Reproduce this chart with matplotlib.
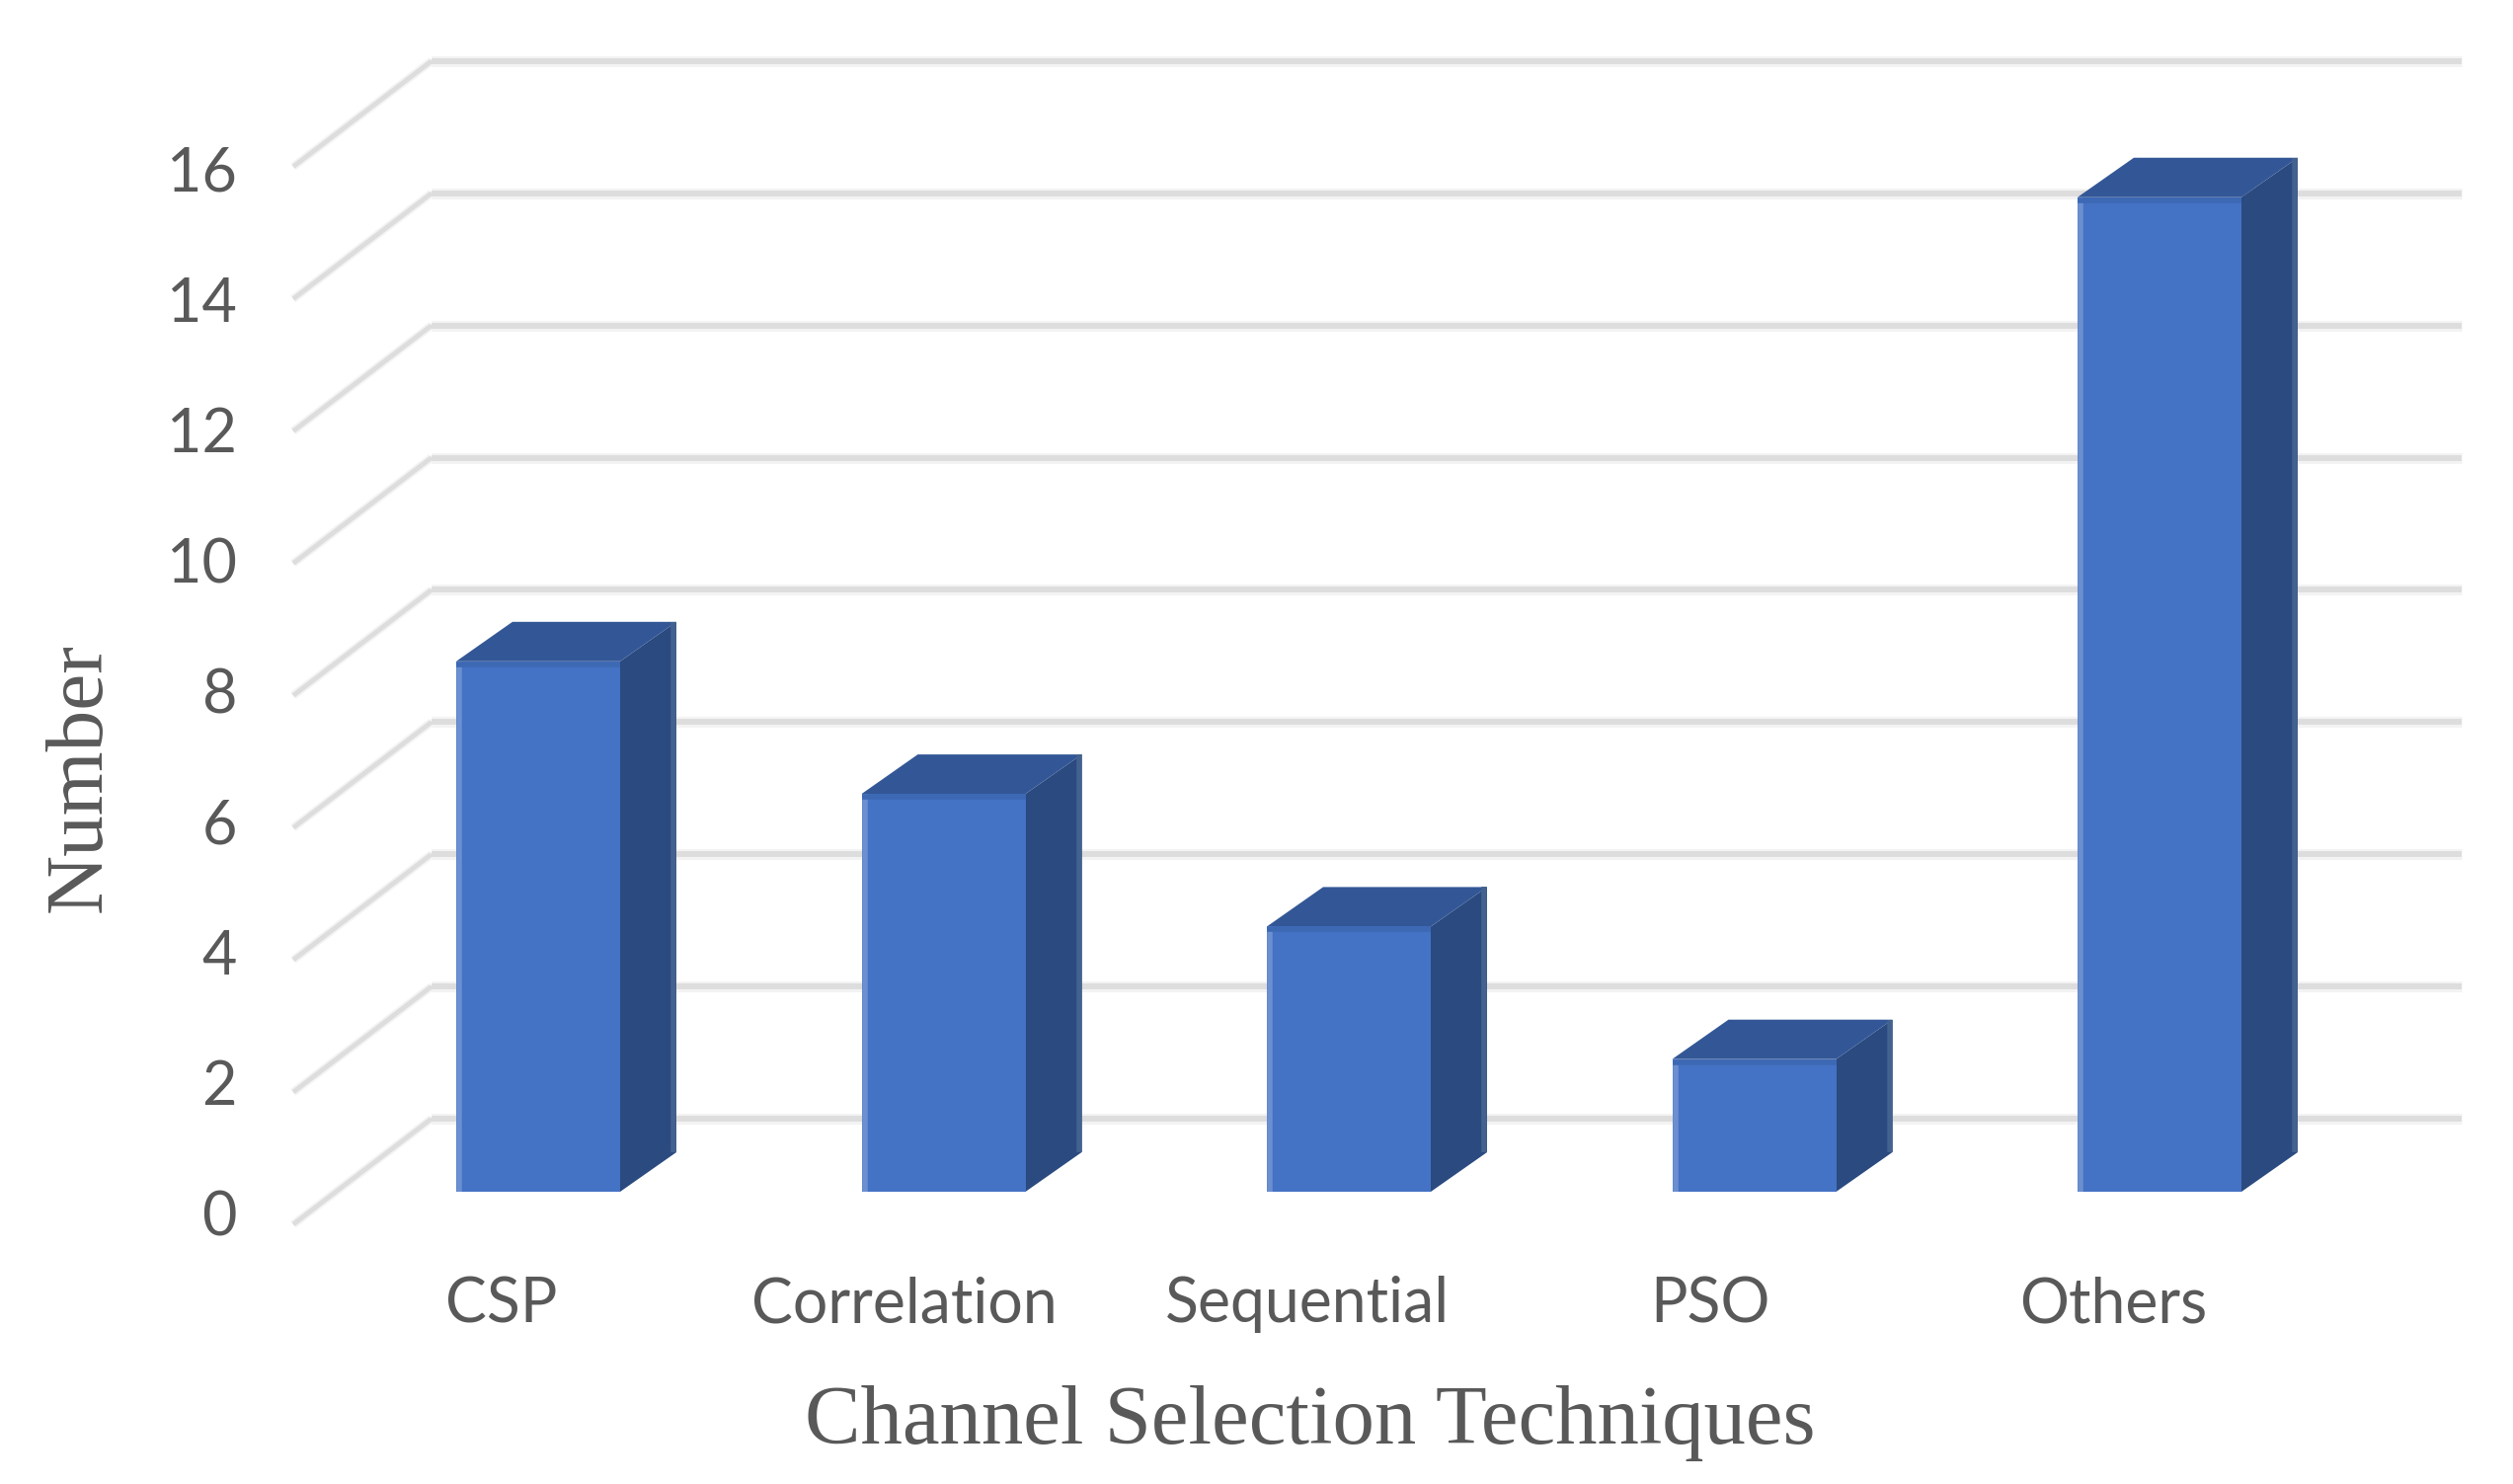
# -*- coding: utf-8 -*-
import matplotlib
matplotlib.use('Agg')
import matplotlib.pyplot as plt
from matplotlib.patches import Polygon

categories = ['CSP', 'Correlation', 'Sequential', 'PSO', 'Others']
values = [8, 6, 4, 2, 15]
y_ticks = [0, 2, 4, 6, 8, 10, 12, 14, 16]

x_title = 'Channel Selection Techniques'
y_title = 'Number'

# pixel layout of the fake 3d box
W, H = 2545, 1503
X0, STEP = 545.0, 410.5   # centre of first bar, spacing between bars
Y0, UNIT = 1207.0, 67.15  # bar plane baseline, pixels per unit


def px(x):
    return (x - X0) / STEP


def py(y):
    return (Y0 - y) / UNIT


def dx(d):
    return d / STEP


def dy(d):
    return d / UNIT


fig = plt.figure(figsize = (W / 100, H / 100), dpi = 100, facecolor = 'white')
ax = fig.add_axes([0, 0, 1, 1])
ax.set_xlim(px(0), px(W))
ax.set_ylim(py(H), py(0))
ax.axis('off')

# back wall and side wall gridlines, the wall is a bit further away so the scale is smaller
wall_left, wall_right = px(437), px(2493)
wall_shift = dy(74)
wall_scale = 66.95 / UNIT
label_scale = 66.1 / UNIT
side_x, side_y = px(297), dy(33)
for v in y_ticks:
    wall_y = v * wall_scale + wall_shift
    side_end = v * wall_scale - side_y
    for color, lw_back, lw_side, z in [('#F3F3F3', 8.0, 6.0, 1), ('#DDDDDD', 4.2, 3.4, 1.5)]:
        ax.plot([wall_left, wall_right], [wall_y, wall_y], color = color,
            lw = lw_back, solid_capstyle = 'butt', zorder = z)
        ax.plot([side_x, wall_left], [side_end, wall_y], color = color,
            lw = lw_side, solid_capstyle = 'butt', zorder = z)
    ax.text(px(240), v * label_scale - dy(27), str(v), ha = 'right', va = 'center', fontsize = 44,
        family = 'Lato', color = '#595959', zorder = 5)

# bars
bar_w = 166.0 / STEP
depth_x, depth_y = dx(57), dy(40)
for i, (name, v) in enumerate(zip(categories, values)):
    left, right = i - bar_w / 2, i + bar_w / 2
    ax.add_patch(Polygon([(right, 0), (right + depth_x, depth_y), (right + depth_x, v + depth_y), (right, v)],
        closed = True, facecolor = '#2A4A80', edgecolor = 'none', zorder = 3))
    ax.add_patch(Polygon([(left, v), (right, v), (right + depth_x, v + depth_y), (left + depth_x, v + depth_y)],
        closed = True, facecolor = '#335796', edgecolor = 'none', zorder = 3))
    ax.bar(i, v, width = bar_w, color = '#4472C4', edgecolor = 'none', zorder = 4)
    # light edges of the extruded shape
    ax.plot([left + dx(3), left + dx(3)], [0, v], color = '#6C8FD0', lw = 4.0, solid_capstyle = 'butt', zorder = 4)
    ax.plot([left, right], [v - dy(3), v - dy(3)], color = '#3D68B4', lw = 4.0, solid_capstyle = 'butt', zorder = 4)
    ax.plot([right + depth_x - dx(3)] * 2, [depth_y, v + depth_y], color = '#44628F', lw = 4.0,
        solid_capstyle = 'butt', zorder = 3)
    ax.text(px(508 + i * 408), py(1321), name, ha = 'center', va = 'center', fontsize = 45,
        family = 'Lato', color = '#595959', zorder = 5)

ax.text(px(1327), py(1442), x_title, ha = 'center', va = 'center', fontsize = 61,
    family = 'Liberation Serif', color = '#595959')
ax.text(px(82), py(787), y_title, ha = 'center', va = 'center', rotation = 90, fontsize = 60,
    family = 'Liberation Serif', color = '#595959')

fig.savefig('out.png', dpi = 100)
